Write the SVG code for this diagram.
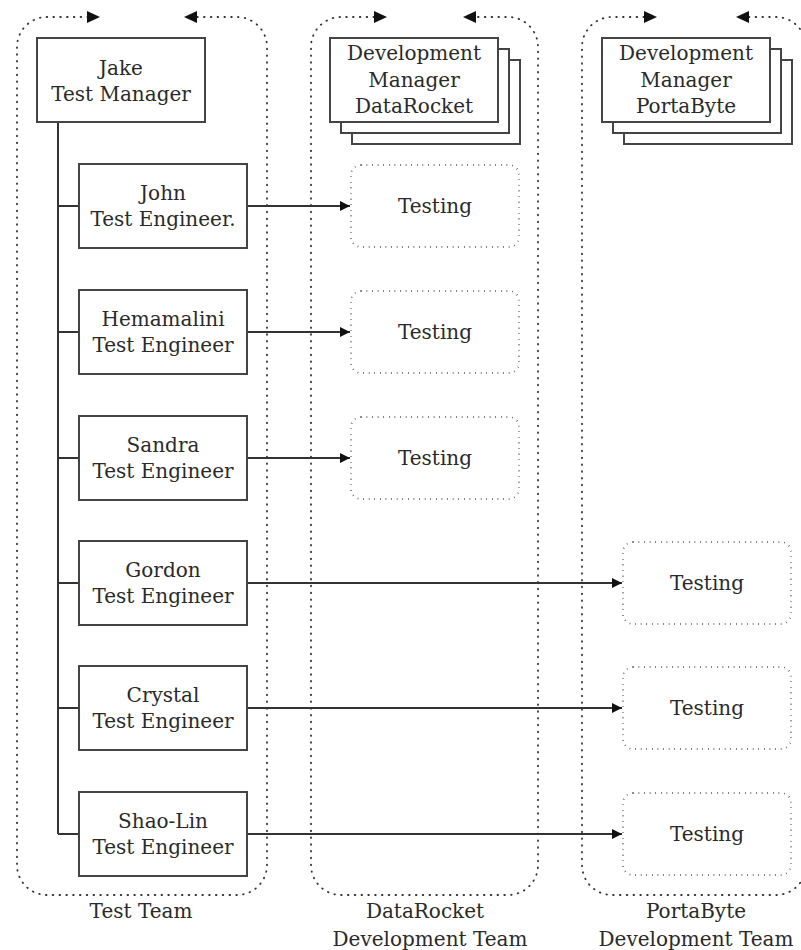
<svg xmlns="http://www.w3.org/2000/svg" width="801" height="950" viewBox="0 0 801 950">
<style>
text{font-family:"DejaVu Serif","Liberation Serif",serif;font-size:20px;fill:#2a2a2a;text-anchor:middle}
.box{fill:#fff;stroke:#444;stroke-width:2}
.cont{fill:none;stroke:#333;stroke-width:1.8;stroke-dasharray:0.6 6.2;stroke-linecap:round}
.test{fill:#fff;stroke:#333;stroke-width:1.8;stroke-dasharray:0.6 5}
.ah{fill:#111}
.line{fill:none;stroke:#333;stroke-width:2}
</style>
<defs>
<marker id="arr" viewBox="0 0 10 10" refX="10" refY="5" markerWidth="5" markerHeight="5" orient="auto" markerUnits="strokeWidth">
<path d="M0,0 L10,5 L0,10 z" fill="#111"/>
</marker>
</defs>

<g id="container-test-team">
<path class="cont" d="M88,17 H47 A30,30 0 0 0 17,47 V865 A30,30 0 0 0 47,895 H237 A30,30 0 0 0 267,865 V47 A30,30 0 0 0 237,17 H196"/>
<polygon class="ah" points="87,11 100,17 87,23"/>
<polygon class="ah" points="197,11 184,17 197,23"/>
<text x="141" y="918">Test Team</text>
</g>
<g id="container-datarocket">
<path class="cont" d="M374,17 H341 A30,30 0 0 0 311,47 V865 A30,30 0 0 0 341,895 H508 A30,30 0 0 0 538,865 V47 A30,30 0 0 0 508,17 H476"/>
<polygon class="ah" points="374,11 387,17 374,23"/>
<polygon class="ah" points="476,11 463,17 476,23"/>
<text x="425" y="918">DataRocket</text>
<text x="430" y="946">Development Team</text>
</g>
<g id="container-portabyte">
<path class="cont" d="M644,17 H612 A30,30 0 0 0 582,47 V865 A30,30 0 0 0 612,895 H776 A30,30 0 0 0 806,865 V47 A30,30 0 0 0 776,17 H749"/>
<polygon class="ah" points="644,11 657,17 644,23"/>
<polygon class="ah" points="749,11 736,17 749,23"/>
<text x="696" y="918">PortaByte</text>
<text x="696" y="946">Development Team</text>
</g>

<g id="connectors">
<path class="line" d="M58,122 V834"/>
<path class="line" d="M58,206 H79 M58,332 H79 M58,458 H79 M58,583 H79 M58,708 H79 M58,834 H79"/>
<path class="line" d="M247,206 H350" marker-end="url(#arr)"/>
<path class="line" d="M247,332 H350" marker-end="url(#arr)"/>
<path class="line" d="M247,458 H350" marker-end="url(#arr)"/>
<path class="line" d="M247,583 H622" marker-end="url(#arr)"/>
<path class="line" d="M247,708 H622" marker-end="url(#arr)"/>
<path class="line" d="M247,834 H622" marker-end="url(#arr)"/>
</g>

<g id="jake">
<rect class="box" x="37" y="38" width="168" height="84"/>
<text x="121" y="75">Jake</text>
<text x="121" y="101">Test Manager</text>
</g>
<g id="dm-datarocket">
<rect class="box" x="352" y="60" width="168" height="84"/>
<rect class="box" x="341" y="49" width="168" height="84"/>
<rect class="box" x="330" y="38" width="168" height="84"/>
<text x="414" y="60">Development</text>
<text x="414" y="87">Manager</text>
<text x="414" y="113">DataRocket</text>
</g>
<g id="dm-portabyte">
<rect class="box" x="624" y="60" width="168" height="84"/>
<rect class="box" x="613" y="49" width="168" height="84"/>
<rect class="box" x="602" y="38" width="168" height="84"/>
<text x="686" y="60">Development</text>
<text x="686" y="87">Manager</text>
<text x="686" y="113">PortaByte</text>
</g>

<g id="john">
<rect class="box" x="79" y="164" width="168" height="84"/>
<text x="163" y="200">John</text>
<text x="163" y="226">Test Engineer.</text>
</g>
<g id="hemamalini">
<rect class="box" x="79" y="290" width="168" height="84"/>
<text x="163" y="326">Hemamalini</text>
<text x="163" y="352">Test Engineer</text>
</g>
<g id="sandra">
<rect class="box" x="79" y="416" width="168" height="84"/>
<text x="163" y="452">Sandra</text>
<text x="163" y="478">Test Engineer</text>
</g>
<g id="gordon">
<rect class="box" x="79" y="541" width="168" height="84"/>
<text x="163" y="577">Gordon</text>
<text x="163" y="603">Test Engineer</text>
</g>
<g id="crystal">
<rect class="box" x="79" y="666" width="168" height="84"/>
<text x="163" y="702">Crystal</text>
<text x="163" y="728">Test Engineer</text>
</g>
<g id="shaolin">
<rect class="box" x="79" y="792" width="168" height="84"/>
<text x="163" y="828">Shao-Lin</text>
<text x="163" y="854">Test Engineer</text>
</g>

<g id="testing-dr-1">
<rect class="test" x="351" y="165" width="168" height="82" rx="10"/>
<text x="435" y="213">Testing</text>
</g>
<g id="testing-dr-2">
<rect class="test" x="351" y="291" width="168" height="82" rx="10"/>
<text x="435" y="339">Testing</text>
</g>
<g id="testing-dr-3">
<rect class="test" x="351" y="417" width="168" height="82" rx="10"/>
<text x="435" y="465">Testing</text>
</g>
<g id="testing-pb-1">
<rect class="test" x="623" y="542" width="168" height="82" rx="10"/>
<text x="707" y="590">Testing</text>
</g>
<g id="testing-pb-2">
<rect class="test" x="623" y="667" width="168" height="82" rx="10"/>
<text x="707" y="715">Testing</text>
</g>
<g id="testing-pb-3">
<rect class="test" x="623" y="793" width="168" height="82" rx="10"/>
<text x="707" y="841">Testing</text>
</g>
</svg>
